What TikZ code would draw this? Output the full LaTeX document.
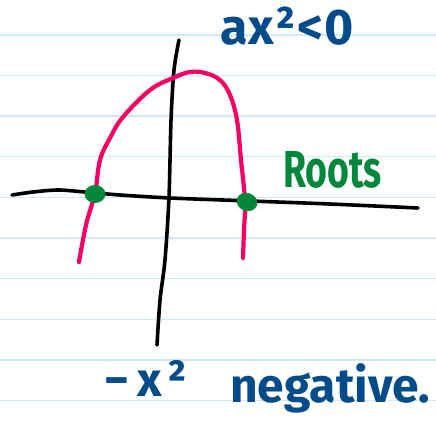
\documentclass[tikz,border=0pt]{standalone}
\usepackage{fontspec}
\usetikzlibrary{shapes.geometric}
\setmainfont{Fira Sans}
\definecolor{ink}{RGB}{0,76,138}
\definecolor{pinkc}{RGB}{245,0,100}
\definecolor{greenc}{RGB}{0,135,60}
\definecolor{rulec}{RGB}{208,234,248}
\begin{document}
\begin{tikzpicture}[x=1pt,y=-1pt,
  axisline/.style={line width=3.6pt,line cap=round,line join=round},
  curveline/.style={pinkc,line width=4.2pt,line cap=round,line join=round},
  rootdot/.style={ellipse,fill=greenc,inner sep=0pt,minimum width=21pt,minimum height=18pt},
  inktext/.style={text=ink,inner sep=0pt,anchor=base west},
  rulestyle/.style={rulec,line width=1.4pt}]
\useasboundingbox (0,0) rectangle (436,430);
\fill[white] (0,0) rectangle (436,430);
\foreach \k in {0,...,9} \draw[rulestyle] (0,35+40.6*\k) -- (436,35+40.6*\k);
% axes
\draw[axisline] plot[smooth] coordinates {(12,195) (33,192) (58,190) (85,192) (120,195) (170,198) (250,201) (330,204) (418,208)};
\draw[axisline] plot[smooth] coordinates {(179,40) (174,70) (171,120) (169,197) (165,260) (160,300) (157,345)};
% parabola
\draw[curveline] plot[smooth,tension=0.6] coordinates {(79,262) (86,225) (95,193) (100,160) (110,138) (123,117) (150,90) (173,78) (190,72) (205,73) (220,80) (230,95) (237,120) (241,160) (245,201) (244,230) (243,258)};
% roots
\node[rootdot] (r1) at (95,194) {};
\node[rootdot,rotate=-20] (r2) at (247,202) {};
% texts
\node[inktext,font=\fontsize{50}{50}\bfseries] (t1) at (220,45) {a\kern1ptx\kern1pt²\kern2pt<\kern1pt0};
\node[inktext,text=greenc,font=\fontsize{52}{52}\bfseries] (t2) at (283,188) {\scalebox{0.72}[1]{Roots}};
\node[inktext,font=\fontsize{48}{48}\bfseries] (t3) at (104,396) {−\kern8ptx\kern6pt²};
\node[inktext,font=\fontsize{48}{48}\bfseries] (t4) at (230,402) {negative.};
\end{tikzpicture}
\end{document}
